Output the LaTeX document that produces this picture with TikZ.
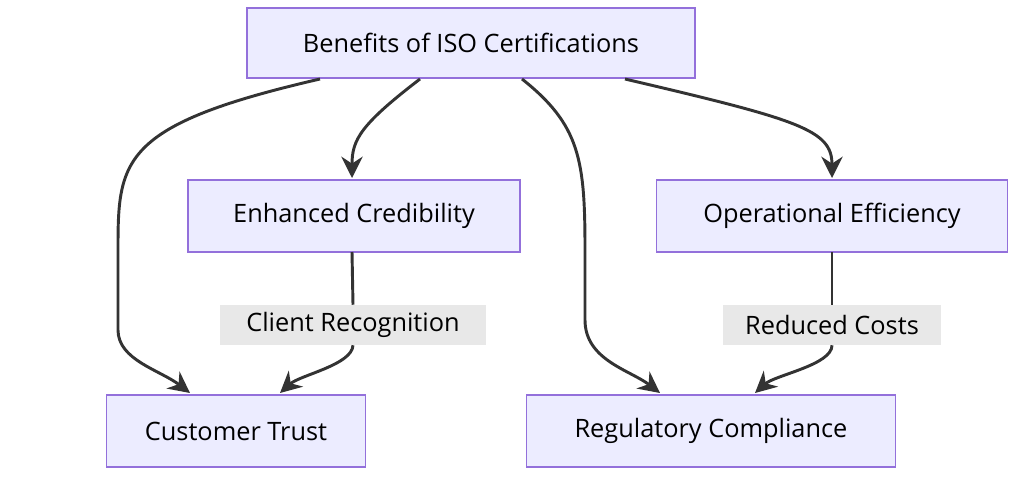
\documentclass[tikz,border=0pt]{standalone}
\usepackage{fontspec}
\setmainfont{Open Sans}
\usetikzlibrary{positioning,arrows.meta}
\definecolor{boxfill}{HTML}{ECECFF}
\definecolor{boxline}{HTML}{9370DB}
\definecolor{edgecol}{HTML}{333333}
\definecolor{lblfill}{HTML}{E8E8E8}
\tikzset{%
  every box/.style={draw=boxline,fill=boxfill,line width=1.2pt,font=\fontsize{19}{22}\selectfont,inner sep=0pt},
  edge label/.style={fill=lblfill,font=\fontsize{19}{22}\selectfont,inner sep=0pt},
}

\begin{document}
\begin{tikzpicture}[
            x=0.75pt,y=-0.75pt,
            link/.style={draw=edgecol,line width=2.2pt,-{Stealth[length=16pt,width=16pt]}},
            >=Stealth
            ]
            \useasboundingbox (0,0) rectangle (1024,501);
            % boxes
            \node[every box,minimum width=336pt,minimum height=52.5pt] (iso) at (471,43) {Benefits of ISO Certifications};
            \node[every box,minimum width=249pt,minimum height=54pt] (cred) at (354,216) {Enhanced Credibility};
            \node[every box,minimum width=263pt,minimum height=54pt] (eff) at (832,216) {Operational Efficiency};
            \node[every box,minimum width=194pt,minimum height=54pt] (trust) at (236,431) {Customer Trust};
            \node[every box,minimum width=277pt,minimum height=54pt] (comp) at (711,431) {Regulatory Compliance};
            % labels
            \node[edge label,minimum width=200pt,minimum height=30pt] (recog) at (353,325) {Client Recognition};
            \node[edge label,minimum width=163pt,minimum height=30pt] (costs) at (832,325) {Reduced Costs};
            \coordinate (a1) at (320,79);
            \coordinate (a2) at (420,79);
            \coordinate (a3) at (522,79);
            \coordinate (a4) at (625,79);
            % edges
            \draw[link] (a1) .. controls (120,125) and (118,160) .. (118,250) -- (118,330) .. controls (118,360) and (160,370) .. (190,393);
            \draw[link] (a2) .. controls (360,125) and (352,140) .. (352,178);
            \draw[link] (a3) .. controls (580,125) and (585,160) .. (585,250) -- (585,320) .. controls (585,360) and (630,370) .. (660,393);
            \draw[link] (a4) .. controls (800,120) and (832,130) .. (832,178);
            \draw[draw=edgecol,line width=2.2pt] (352,252) -- (recog.north);
            \draw[link] (recog.south) .. controls (352,365) and (300,375) .. (280,393);
            \draw[draw=edgecol,line width=2.2pt] (832,252) -- (costs.north);
            \draw[link] (costs.south) .. controls (832,365) and (775,375) .. (755,393);
\end{tikzpicture}
\end{document}
